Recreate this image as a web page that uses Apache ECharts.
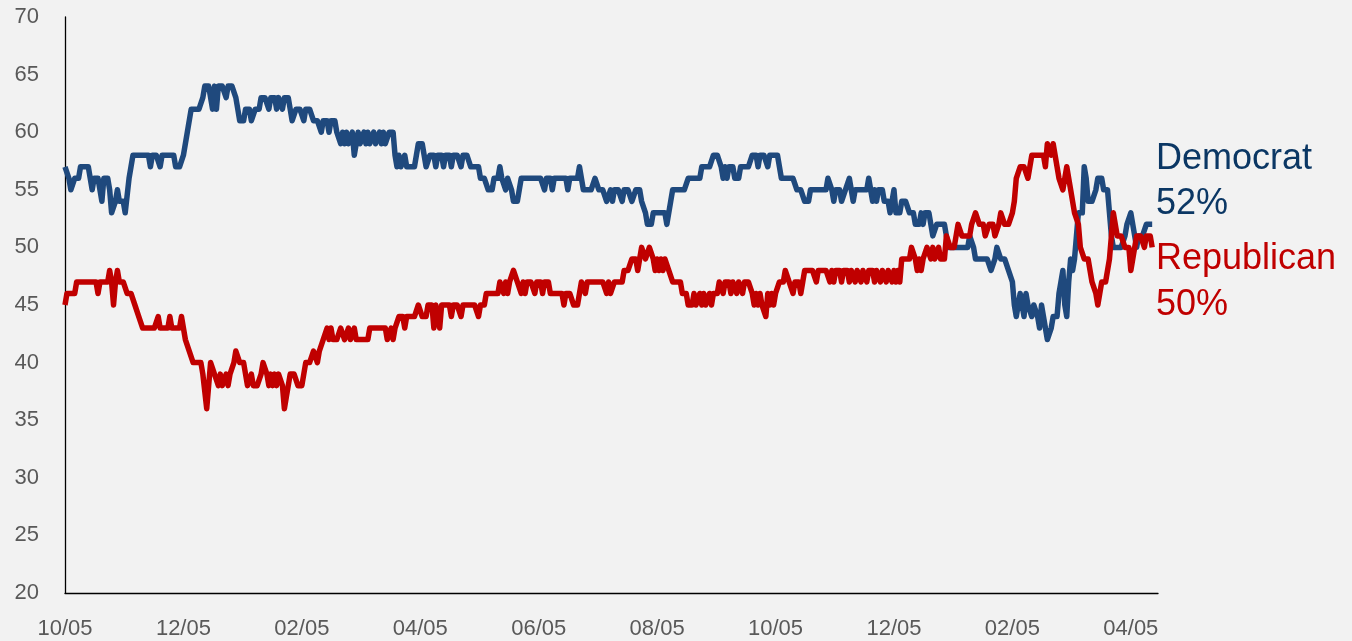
<!DOCTYPE html>
<html>
<head>
<meta charset="utf-8">
<script src="https://cdn.jsdelivr.net/npm/echarts@6/dist/echarts.min.js"></script>
<style>
  html, body { margin: 0; padding: 0; background: #f2f2f2; }
  #chart { width: 1352px; height: 641px; }
</style>
</head>
<body>
<div id="chart"></div>
<script>
// Daily generic-ballot standing (%), one value per day starting 10/05.
const democrat = [
  57,57,56,55,55,56,56,56,57,57, 57,57,57,56,55,56,56,56,56,54,
  56,56,56,55,53,53,54,55,54,54, 54,53,53,56,57,58,58,58,58,58,
  58,58,58,58,57,58,58,58,58,57, 58,58,58,58,58,58,58,57,57,57,
  57,58,58,60,60,62,62,62,62,62, 62,63,64,64,64,64,62,64,62,64,
  64,64,64,63,64,64,64,64,63,62, 61,61,61,62,62,62,61,61,62,62,
  62,63,63,63,63,62,63,63,63,62, 63,63,62,63,63,63,62,61,61,62,
  62,62,62,61,62,62,62,62,61,61, 61,61,60,61,61,61,60,61,61,61,
  60,60,59,60,59,60,59,59,60,58, 59,60,59,59,60,59,60,59,59,60,
  59,59,60,59,60,59,59,60,60,60, 58,57,58,57,57,58,57,57,57,57,
  57,58,59,59,59,58,57,57,58,58, 58,57,58,58,58,57,58,58,58,57,
  58,58,58,58,57,58,58,58,58,57, 57,57,57,57,56,56,56,56,55,55,
  55,56,56,56,57,56,56,55,56,56, 55,54,54,54,55,56,56,56,56,56,
  56,56,56,56,56,56,56,55,56,56, 56,55,56,56,56,56,56,56,56,55,
  56,56,56,56,56,57,56,55,55,55, 55,55,55,56,56,55,55,55,55,54,
  54,55,54,55,55,55,55,54,55,55, 55,55,54,54,55,55,55,54,54,53,
  52,52,52,53,53,53,53,53,53,53, 52,52,54,55,55,55,55,55,55,55,
  55,56,56,56,56,56,56,56,57,57, 57,57,57,57,58,58,58,58,57,56,
  57,56,57,57,57,56,56,56,57,57, 57,57,57,57,58,58,58,57,58,58,
  58,58,57,58,58,58,58,58,57,56, 56,56,56,56,56,56,56,55,55,55,
  55,54,54,54,55,55,55,55,55,55, 55,55,55,56,56,55,54,55,55,55,
  54,54,55,55,56,56,54,55,55,55, 55,55,55,55,56,56,54,55,54,55,
  55,55,54,54,54,53,54,55,53,53, 53,54,54,54,54,53,53,53,52,52,
  52,53,52,53,53,53,52,51,51,52, 52,52,52,52,51,50,50,50,50,50,
  50,50,50,50,50,50,51,51,50,49, 49,49,49,49,49,49,49,48,48,49,
  50,50,49,49,49,49,48,48,47,45, 44,44,46,46,44,46,45,45,44,45,
  45,44,43,45,44,44,42,42,43,44, 44,44,46,47,48,45,44,47,49,48,
  49,51,53,53,53,57,56,54,54,54, 54,55,56,56,56,55,55,55,53,51,
  50,50,50,50,50,50,51,52,52,53, 52,51,50,51,51,51,51,52,52,52,52
];
const republican = [
  45,46,46,46,46,46,47,47,47,47, 47,47,47,47,47,47,47,46,47,47,
  47,47,47,48,47,45,47,48,47,47, 47,47,46,46,46,46,45,45,44,44,
  43,43,43,43,43,43,43,43,44,43, 43,43,43,43,44,43,43,43,43,43,
  44,43,42,42,41,41,40,40,40,40, 40,39,39,36,38,40,40,39,39,38,
  39,38,38,39,38,39,39,40,41,41, 40,40,40,40,38,38,39,38,38,38,
  38,39,40,40,39,38,39,38,39,38, 39,39,38,36,37,38,39,39,39,39,
  38,38,38,39,40,40,40,40,41,41, 40,41,41,42,42,43,42,43,42,42,
  42,42,43,43,42,42,43,42,42,43, 42,42,42,42,42,42,42,43,43,43,
  43,43,43,43,43,43,42,42,43,42, 43,43,44,44,44,43,44,44,44,44,
  44,44,45,45,44,44,44,45,45,45, 43,45,45,43,45,45,45,45,45,44,
  45,45,45,45,44,45,45,45,45,45, 45,45,45,44,45,45,45,46,46,46,
  46,46,46,46,47,47,46,47,46,47, 47,48,48,47,47,46,47,46,47,47,
  47,47,46,47,47,47,46,47,47,47, 46,46,46,46,46,46,46,45,46,46,
  46,46,45,45,45,46,47,47,46,47, 47,47,47,47,47,47,47,47,47,46,
  47,46,46,47,47,47,47,47,48,48, 48,48,49,49,49,48,49,50,50,49,
  49,50,50,49,48,49,48,49,48,49, 49,48,48,47,47,47,47,47,46,46,
  46,45,45,45,46,45,45,46,45,46, 45,45,46,45,46,46,46,47,47,46,
  47,47,47,46,47,47,46,47,47,46, 47,47,47,47,46,45,46,45,46,45,
  45,44,46,45,46,45,46,46,47,47, 47,48,48,47,47,46,47,47,47,46,
  47,48,48,48,48,48,48,47,48,48, 48,48,48,48,47,48,47,48,48,48,
  47,48,48,48,47,48,48,47,48,48, 47,48,48,47,48,48,48,47,48,48,
  47,48,48,47,48,48,47,48,47,48, 47,49,49,49,49,49,50,50,49,48,
  49,48,49,49,50,50,49,50,49,49, 50,49,49,49,51,51,50,50,50,50,
  52,52,51,51,51,51,51,52,52,53, 53,52,52,52,51,51,52,52,52,51,
  51,52,53,53,52,52,52,52,53,54, 56,56,57,57,57,57,56,57,58,58,
  58,58,58,58,58,57,59,59,58,59, 58,57,56,56,55,56,57,56,55,55,
  53,53,52,50,50,49,49,49,48,47, 47,46,45,46,47,47,47,47,49,51,
  53,52,51,51,51,51,50,50,50,48, 49,50,51,51,51,51,50,51,51,51,50
];
const partyNames = ['Democrat', 'Republican'];
const xTickLabels = ['10/05', '12/05', '02/05', '04/05', '06/05', '08/05', '10/05', '12/05', '02/05', '04/05'];
const daysPerTick = 61;
const lastDay = 563;

const blue = '#1f497d';
const blueText = '#0b3764';
const red = '#c00000';
const axisText = '#595959';
const font = '"Liberation Sans", Arial, sans-serif';

const chart = echarts.init(document.getElementById('chart'), null, { renderer: 'canvas' });

const toPoints = arr => arr.map((v, i) => [i, v]);

const lastDem = democrat[democrat.length - 1];
const lastRep = republican[republican.length - 1];

chart.setOption({
  backgroundColor: '#f2f2f2',
  animation: false,
  grid: { left: 65, top: 17, width: 1093, bottom: 48, containLabel: false },
  xAxis: {
    type: 'value',
    min: 0,
    max: lastDay,
    interval: daysPerTick,
    axisLine: { show: true, lineStyle: { color: '#000', width: 1.3 } },
    axisTick: { show: false },
    splitLine: { show: false },
    axisLabel: {
      color: axisText,
      fontSize: 22,
      fontFamily: font,
      margin: 25,
      showMaxLabel: false,
      formatter: v => {
        const i = Math.round(v / daysPerTick);
        return (i * daysPerTick === v && i < xTickLabels.length) ? xTickLabels[i] : '';
      }
    }
  },
  yAxis: {
    type: 'value',
    min: 20,
    max: 70,
    interval: 5,
    axisLine: { show: true, lineStyle: { color: '#000', width: 1.3 } },
    axisTick: { show: false },
    splitLine: { show: false },
    axisLabel: { color: axisText, fontSize: 22, fontFamily: font, margin: 26 }
  },
  series: [
    {
      name: partyNames[0],
      type: 'line',
      data: toPoints(democrat),
      showSymbol: false,
      lineStyle: { color: blue, width: 5.5, join: 'round', cap: 'butt' },
      z: 2
    },
    {
      name: partyNames[1],
      type: 'line',
      data: toPoints(republican),
      showSymbol: false,
      lineStyle: { color: red, width: 5.5, join: 'round', cap: 'butt' },
      z: 3
    }
  ],
  graphic: [
    { type: 'text', left: 1156, top: 137, style: { text: partyNames[0] + '\n' + lastDem + '%', fill: blueText, font: '36px ' + font, lineHeight: 45 } },
    { type: 'text', left: 1156, top: 236, style: { text: partyNames[1] + '\n' + lastRep + '%', fill: red, font: '36px ' + font, lineHeight: 46 } }
  ]
});
</script>
</body>
</html>
